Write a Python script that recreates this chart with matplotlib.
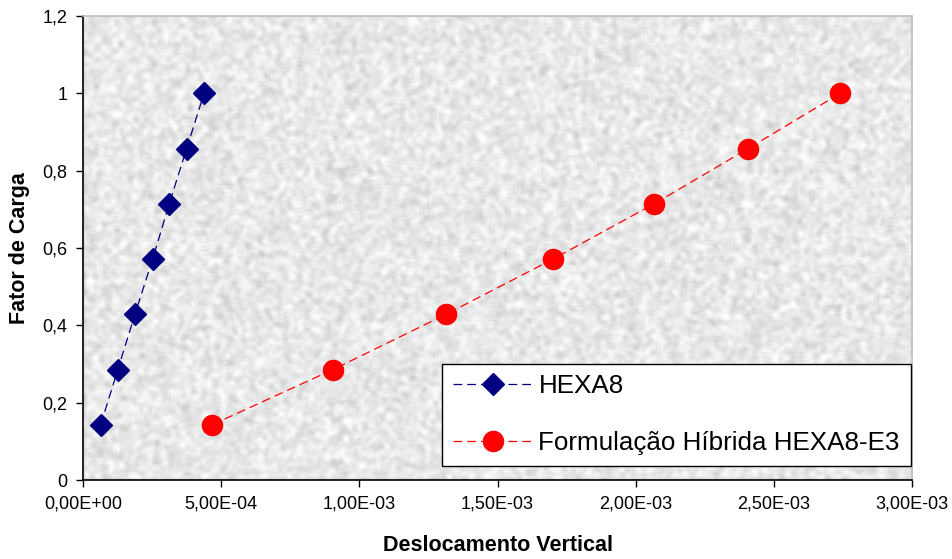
import numpy as np
import matplotlib
matplotlib.use('Agg')
import matplotlib.pyplot as plt

plt.rcParams['font.family'] = ['Liberation Sans', 'DejaVu Sans']

# Data
fator_carga = [0.1429, 0.2857, 0.4286, 0.5714, 0.7143, 0.8571, 1.0]
desloc_hexa8 = [0.064e-3, 0.126e-3, 0.188e-3, 0.252e-3, 0.312e-3, 0.375e-3, 0.438e-3]
desloc_hibrida = [0.467e-3, 0.905e-3, 1.314e-3, 1.701e-3, 2.067e-3, 2.407e-3, 2.740e-3]

xticks = [0, 0.5e-3, 1.0e-3, 1.5e-3, 2.0e-3, 2.5e-3, 3.0e-3]
xticklabels = ['0,00E+00', '5,00E-04', '1,00E-03', '1,50E-03', '2,00E-03', '2,50E-03', '3,00E-03']
yticks = [0, 0.2, 0.4, 0.6, 0.8, 1.0, 1.2]
yticklabels = ['0', '0,2', '0,4', '0,6', '0,8', '1', '1,2']

fig = plt.figure(figsize=(9.52, 5.59), dpi=100)
ax = fig.add_axes([0.0872, 0.1413, 0.8708, 0.8301])

# granite-like gray background texture
rng = np.random.default_rng(7)
noise = rng.random((232, 415))
k = np.ones(3) / 3
noise = np.apply_along_axis(lambda r: np.convolve(r, k, mode='same'), 1, noise)
noise = np.apply_along_axis(lambda c: np.convolve(c, k, mode='same'), 0, noise)
noise = (noise - noise.mean()) / noise.std()
tex = np.clip(0.91 + 0.035 * noise, 0.72, 0.99)
ax.imshow(tex, extent=(0, 1, 0, 1), transform=ax.transAxes, aspect='auto',
          cmap='gray', vmin=0, vmax=1, zorder=0, interpolation='bilinear')

ax.plot(desloc_hexa8, fator_carga, color='#000080', lw=0.9, ls=(0, (7, 4)),
        marker='D', ms=11.5, mfc='#000080', mec='#000080', label='HEXA8', zorder=3)
ax.plot(desloc_hibrida, fator_carga, color='#ff0000', lw=0.9, ls=(0, (7, 4)),
        marker='o', ms=14.5, mfc='#ff0000', mec='#ff0000',
        label='Formulação Híbrida HEXA8-E3', zorder=3)

ax.set_xlim(0, 3.0e-3)
ax.set_ylim(0, 1.2)
ax.set_xticks(xticks)
ax.set_xticklabels(xticklabels)
ax.set_yticks(yticks)
ax.set_yticklabels(yticklabels)
ax.tick_params(direction='out', length=5, width=1, labelsize=13, pad=6)

ax.spines['left'].set_color('black')
ax.spines['bottom'].set_color('black')
ax.spines['top'].set_color('#c0c0c0')
ax.spines['right'].set_color('#c0c0c0')
for s in ax.spines.values():
    s.set_linewidth(1.2)

ax.set_xlabel('Deslocamento Vertical', fontsize=15.5, fontweight='bold', labelpad=16)
ax.set_ylabel('Fator de Carga', fontsize=15.5, fontweight='bold', labelpad=9)

leg = ax.legend(loc='lower right', bbox_to_anchor=(0.9985, 0.03), borderaxespad=0,
                fontsize=18.7, numpoints=1, handlelength=3.1, handletextpad=0.2,
                labelspacing=1.26, borderpad=0.42, fancybox=False, framealpha=1,
                edgecolor='black')
leg.get_frame().set_linewidth(1.0)

fig.savefig('out.png', dpi=100)
